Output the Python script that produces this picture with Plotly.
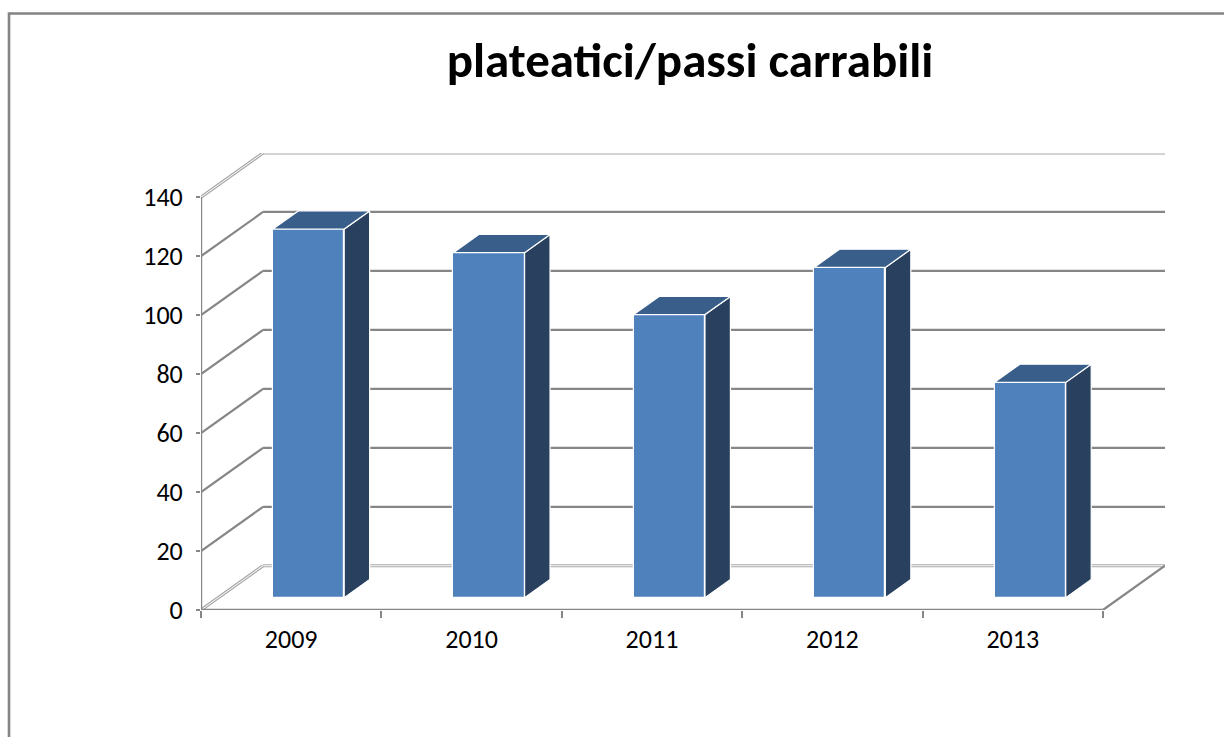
import plotly.graph_objects as go

categories = ["2009", "2010", "2011", "2012", "2013"]
values = [125, 117, 96, 112, 73]
y_ticks = [0, 20, 40, 60, 80, 100, 120, 140]
title_text = "plateatici/passi carrabili"

# 3D oblique geometry (in data units)
DX = 0.344   # depth offset along x (category units)
DY = 15.0    # depth offset along y (value units)
D1 = 0.28    # depth of bar front face
DD = 0.41    # bar depth
BW = 0.395   # bar front width

FRONT = "#4F81BD"
SIDE = "#29405F"
TOP = "#3A5E8A"
GRID = "#868686"
LIGHT = "#A8A8A8"

n = len(categories)
xs = list(range(n))
xmin, xmax = -0.5, n - 0.5
ymax_tick = max(y_ticks)

fig = go.Figure()

# front faces
fig.add_trace(go.Bar(
    x=[i + D1 * DX for i in xs], y=values, base=[D1 * DY] * n, width=BW,
    marker=dict(color=FRONT, line=dict(color="white", width=1.2)),
    hoverinfo="skip", showlegend=False))

# side and top faces
for i, v in zip(xs, values):
    b = D1 * DY
    xl = i + D1 * DX - BW / 2
    xr = i + D1 * DX + BW / 2
    ox, oy = DD * DX, DD * DY
    fig.add_trace(go.Scatter(
        x=[xr, xr, xr + ox, xr + ox, xr], y=[b, b + v, b + v + oy, b + oy, b],
        fill="toself", fillcolor=SIDE, mode="lines",
        line=dict(color="white", width=1.2), hoverinfo="skip", showlegend=False))
    fig.add_trace(go.Scatter(
        x=[xl, xr, xr + ox, xl + ox, xl], y=[b + v, b + v, b + v + oy, b + v + oy, b + v],
        fill="toself", fillcolor=TOP, mode="lines",
        line=dict(color="white", width=1.2), hoverinfo="skip", showlegend=False))

shapes = []
def line(x0, y0, x1, y1, color, width, layer="below"):
    shapes.append(dict(type="line", xref="x", yref="y", x0=x0, y0=y0, x1=x1, y1=y1,
                       line=dict(color=color, width=width), layer=layer))

# back wall gridlines and left wall diagonals
for t in y_ticks:
    edge = t in (0, ymax_tick)
    if edge:
        line(xmin + DX, t + DY, xmax + DX, t + DY, LIGHT, 3.2)
        line(xmin + DX, t + DY, xmax + DX, t + DY, "white", 1)
        line(xmin, t, xmin + DX, t + DY, LIGHT, 3.2)
        line(xmin, t, xmin + DX, t + DY, "white", 1)
    else:
        line(xmin + DX, t + DY, xmax + DX, t + DY, GRID, 2.2)
        line(xmin, t, xmin + DX, t + DY, GRID, 2.2)

# floor edges and front axis
line(xmax, 0, xmax + DX, DY, GRID, 2.2)
line(xmin, 0, xmax, 0, GRID, 2.4, layer="above")
line(xmin, 0, xmin, ymax_tick, GRID, 2.4, layer="above")

# outer chart frame
shapes.append(dict(type="rect", xref="paper", yref="paper",
                   x0=(9 - 201) / 964, x1=(1240 - 201) / 964,
                   y0=(610 - 760) / 457, y1=(610 - 13.5) / 457,
                   line=dict(color="#848484", width=2.6), fillcolor="rgba(0,0,0,0)"))

font_family = "Carlito, Lato, sans-serif"

fig.update_layout(
    width=1224, height=737,
    margin=dict(l=201, r=59, t=153, b=127),
    paper_bgcolor="white", plot_bgcolor="white",
    title=dict(text="<b>" + title_text + "</b>", x=690 / 1224, xanchor="center",
               y=1 - 60 / 737, yanchor="middle", xref="container", yref="container",
               font=dict(family=font_family, size=49, color="black")),
    shapes=shapes,
    bargap=0,
    xaxis=dict(range=[xmin, xmax + DX], tickmode="array", tickvals=xs, ticktext=categories,
               ticks="", showgrid=False, zeroline=False, showline=False,
               ticklabelstandoff=11,
               tickfont=dict(family=font_family, size=26, color="black"),
               minor=dict(ticks="outside", tickmode="linear", tick0=xmin, dtick=1,
                          ticklen=7, tickwidth=2, tickcolor=GRID, showgrid=False)),
    yaxis=dict(range=[0, ymax_tick + DY], tickmode="array", tickvals=y_ticks,
               ticks="outside", ticklen=4, tickwidth=2, tickcolor=GRID,
               showgrid=False, zeroline=False, showline=False,
               ticklabelstandoff=8,
               tickfont=dict(family=font_family, size=26, color="black")),
)

fig.write_html("out.html", config={"displayModeBar": False},
               post_script="document.body.style.margin='0';document.body.style.overflow='hidden';")
